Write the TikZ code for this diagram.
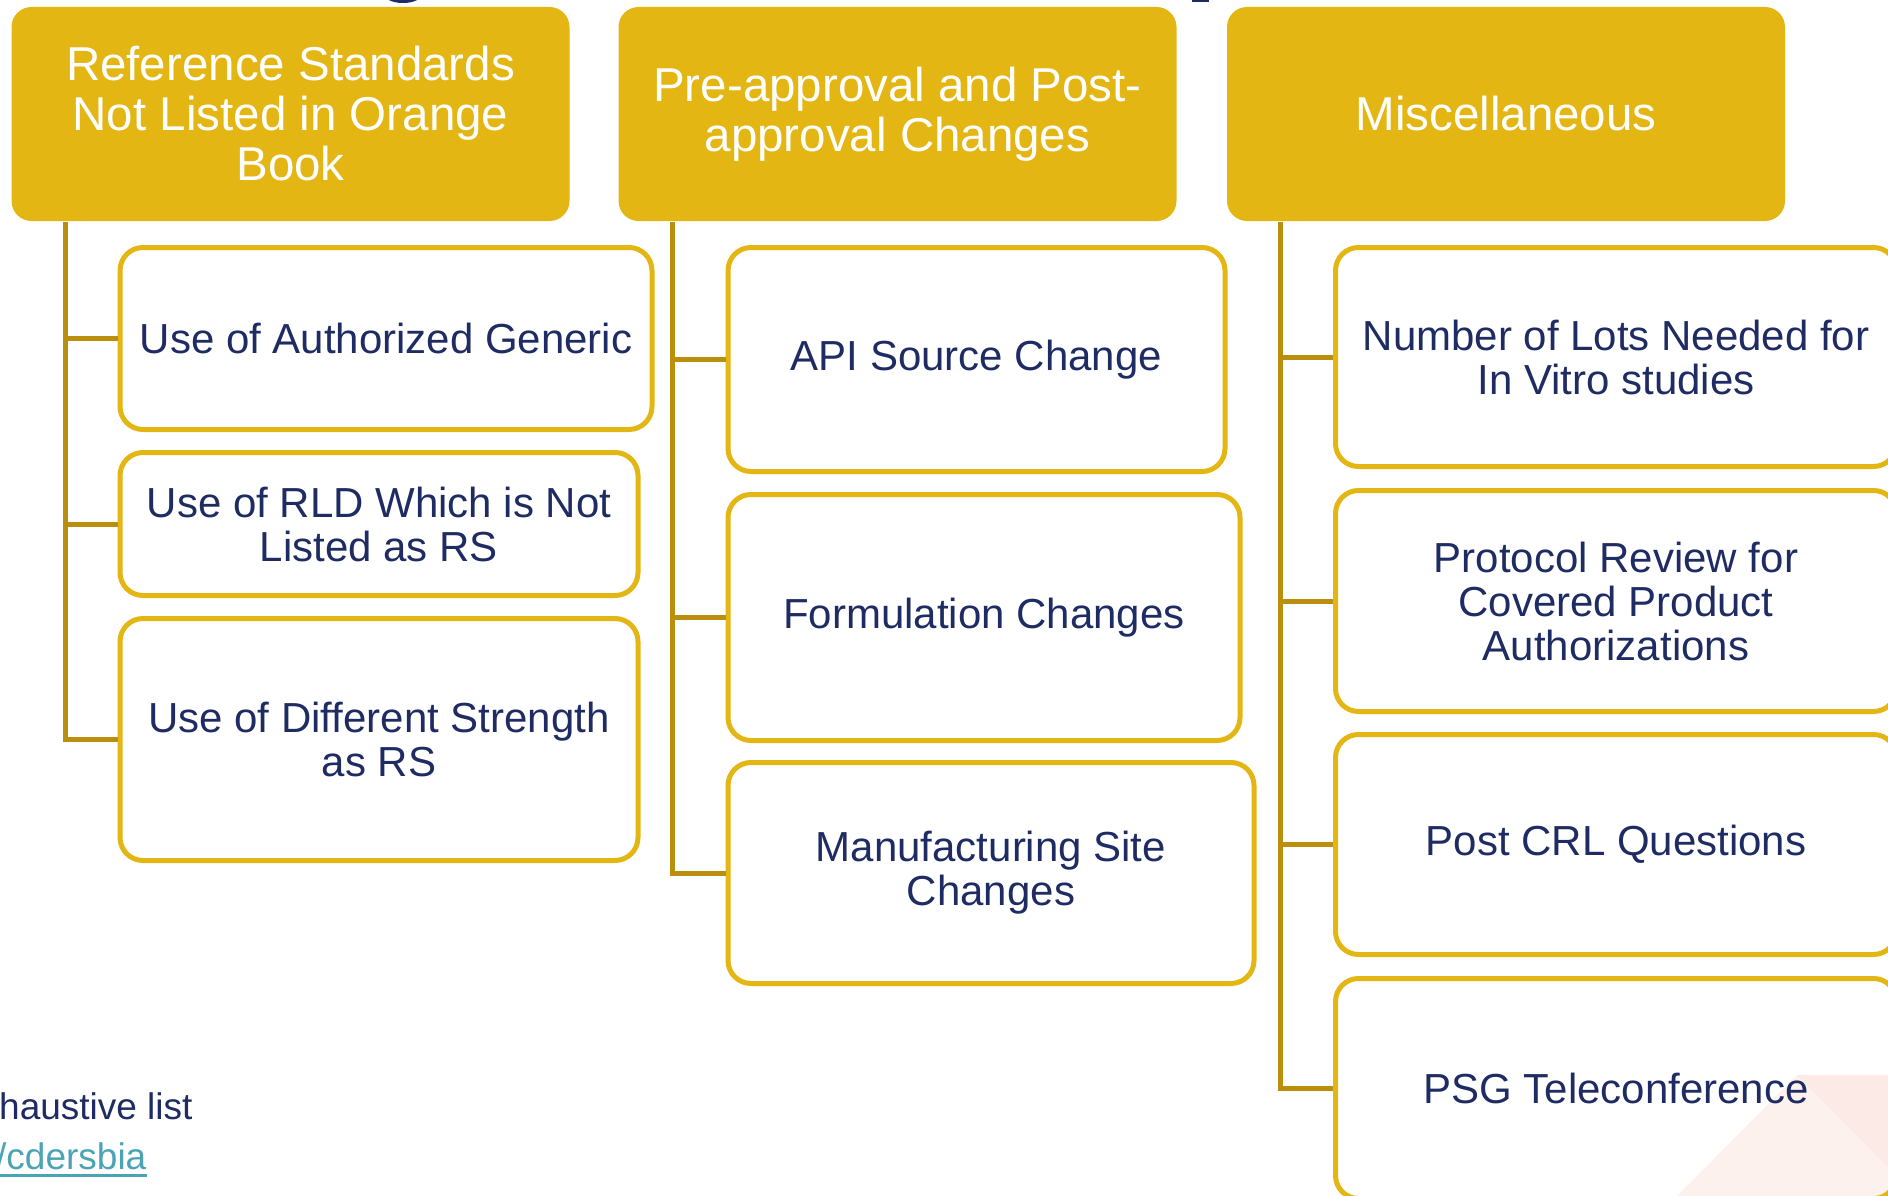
\documentclass[tikz,border=0pt]{standalone}
\usepackage{fontspec}
\setmainfont{Liberation Sans}
\definecolor{gold}{HTML}{E3B614}
\definecolor{linegold}{HTML}{B98F0D}
\definecolor{navy}{HTML}{1F2B63}
\definecolor{linkteal}{HTML}{4BA4B4}
\definecolor{blushA}{HTML}{FDF1EE}
\definecolor{blushB}{HTML}{FBEAE5}

\begin{document}
\begin{tikzpicture}[x=1pt,y=-1pt,
  header/.style={fill=gold, rounded corners=20pt, minimum width=558pt,
    minimum height=214pt, inner sep=0pt, text=white, align=center,
    font=\fontsize{47.5}{50}\selectfont},
  item/.style={draw=gold, line width=5pt, rounded corners=23pt, inner sep=0pt,
    text=navy, align=center, font=\fontsize{42}{44}\selectfont},
  conn/.style={draw=linegold, line width=5pt},
]
\useasboundingbox (0,0) rectangle (1888,1196);
\clip (0,0) rectangle (1888,1196);

% soft background corner shapes
\fill[blushA] (1677,1196) -- (1797,1075) -- (1888,1075) -- (1888,1196) -- cycle;
\fill[blushB] (1797,1075) -- (1888,1075) -- (1888,1167) -- cycle;

% descenders of the heading line above
\fill[navy] (403,-6) ellipse [x radius=19, y radius=9];
\fill[navy] (1192,-1) rectangle (1209,2);

% column headers
\node[header] (h1) at (290.5,114) {Reference Standards\\Not Listed in Orange\\Book};
\node[header] (h2) at (897.5,114) {Pre-approval and Post-\\approval Changes};
\node[header] (h3) at (1506,114) {Miscellaneous};

% first column
\node[item, minimum width=532pt, minimum height=182pt] (a) at (386,338.5) {Use of Authorized Generic};
\node[item, minimum width=518pt, minimum height=143pt] (b) at (379,524) {Use of RLD Which is Not\\Listed as RS};
\node[item, minimum width=518pt, minimum height=242pt] (c) at (379,739.5) {Use of Different Strength\\as RS};

% second column
\node[item, minimum width=497pt, minimum height=224pt] (d) at (976.5,359.5) {API Source Change};
\node[item, minimum width=512pt, minimum height=246pt] (e) at (984,617.5) {Formulation Changes};
\node[item, minimum width=526pt, minimum height=221pt] (f) at (991,873) {Manufacturing Site\\Changes};

% third column
\node[item, minimum width=561pt, minimum height=219pt] (g) at (1616,357) {Number of Lots Needed for\\In Vitro studies};
\node[item, minimum width=561pt, minimum height=221pt] (hh) at (1616,601) {Protocol Review for\\Covered Product\\Authorizations};
\node[item, minimum width=561pt, minimum height=220pt] (i) at (1616,844.5) {Post CRL Questions};
\node[item, minimum width=561pt, minimum height=220pt] (j) at (1616,1088.5) {PSG Teleconference};

% trunk start points under each header
\coordinate (t1) at (65,222);
\coordinate (t2) at (672.5,222);
\coordinate (t3) at (1280,222);

\draw[conn] (t1) |- (a.west);
\draw[conn] (t1) |- (b.west);
\draw[conn] (t1) |- (c.west);

\draw[conn] (t2) |- (d.west);
\draw[conn] (t2) |- (e.west);
\draw[conn] (t2) |- (f.west);

\draw[conn] (t3) |- (g.west);
\draw[conn] (t3) |- (hh.west);
\draw[conn] (t3) |- (i.west);
\draw[conn] (t3) |- (j.west);

% footnote lines
\node[anchor=base west, inner sep=0pt, text=navy, font=\fontsize{37}{40}\selectfont] (note) at (-1,1119) {haustive list};
\node[anchor=base west, inner sep=0pt, text=linkteal, font=\fontsize{37}{40}\selectfont] (link) at (-4,1169) {/cdersbia};
\draw[linkteal, line width=3pt] ([yshift=-6pt]link.base west) -- ([yshift=-6pt]link.base east);
\end{tikzpicture}
\end{document}
